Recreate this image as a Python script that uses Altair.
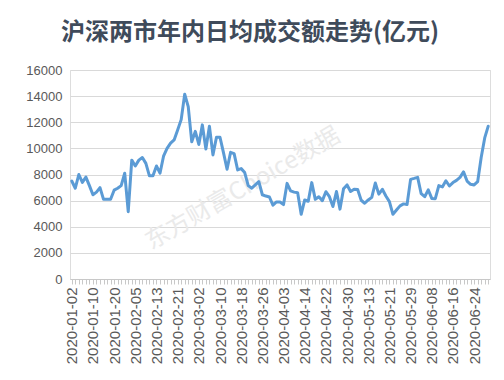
import altair as alt
import pandas as pd

title_text = "沪深两市年内日均成交额走势(亿元)"
watermark_text = "东方财富Choice数据"

# trading days of 2020 (month -> days)
trading_days = {
    "01": [2, 3, 6, 7, 8, 9, 10, 13, 14, 15, 16, 17, 20, 21, 22, 23],
    "02": [3, 4, 5, 6, 7, 10, 11, 12, 13, 14, 17, 18, 19, 20, 21, 24, 25, 26, 27, 28],
    "03": [2, 3, 4, 5, 6, 9, 10, 11, 12, 13, 16, 17, 18, 19, 20, 23, 24, 25, 26, 27, 30, 31],
    "04": [1, 2, 3, 7, 8, 9, 10, 13, 14, 15, 16, 17, 20, 21, 22, 23, 24, 27, 28, 29, 30],
    "05": [6, 7, 8, 11, 12, 13, 14, 15, 18, 19, 20, 21, 22, 25, 26, 27, 28, 29],
    "06": [1, 2, 3, 4, 5, 8, 9, 10, 11, 12, 15, 16, 17, 18, 19, 22, 23, 24, 29, 30],
    "07": [1, 2],
}
dates = [f"2020-{m}-{d:02d}" for m, days in trading_days.items() for d in days]

turnover = [
    7500, 6950, 8000, 7400, 7800, 7150, 6450, 6650, 7000, 6100,
    6100, 6100, 6800, 6950, 7150, 8100, 5150, 9100, 8650, 9100,
    9300, 8850, 7900, 7900, 8650, 8100, 9400, 10000, 10400, 10650,
    11400, 12200, 14150, 13200, 10500, 11300, 10300, 11800, 9950, 11700,
    9500, 10850, 10850, 9650, 8400, 9700, 9600, 8350, 8450, 8150,
    7150, 6950, 7200, 7450, 6450, 6350, 6280, 5650, 5900, 5900,
    5700, 7320, 6750, 6650, 6600, 4950, 6050, 5950, 7380, 6100,
    6300, 6000, 6680, 6300, 5550, 6700, 5350, 6900, 7200, 6700,
    6870, 6850, 6030, 5800, 6050, 6250, 7350, 6500, 6870, 6350,
    5920, 4950, 5280, 5600, 5750, 5700, 7630, 7700, 7780, 6530,
    6300, 6820, 6170, 6150, 7150, 7050, 7520, 7120, 7380, 7550,
    7780, 8200, 7500, 7250, 7200, 7450, 9300, 10800, 11700,
]

y_ticks = [0, 2000, 4000, 6000, 8000, 10000, 12000, 14000, 16000]
shown_dates = dates[::6]

df = pd.DataFrame({"date": dates, "value": turnover})

label_list = "[" + ",".join(f"'{d}'" for d in shown_dates) + "]"

line = alt.Chart(df).mark_line(
    color="#5B9BD5", strokeWidth=3, strokeJoin="round", strokeCap="round"
).encode(
    x=alt.X(
        "date:N",
        sort=None,
        scale=alt.Scale(type="point", padding=0.5),
        axis=alt.Axis(
            title=None,
            labelAngle=270,
            labelExpr=f"indexof({label_list}, datum.value) >= 0 ? datum.value : ''",
            labelOverlap=False,
            labelFont="Liberation Sans",
            labelFontSize=15,
            labelColor="#595959",
            labelPadding=3,
            tickColor="#C8C8C8",
            tickSize=5,
            domainColor="#C8C8C8",
            grid=False,
        ),
    ),
    y=alt.Y(
        "value:Q",
        scale=alt.Scale(domain=[0, 16000], nice=False),
        axis=alt.Axis(
            title=None,
            values=y_ticks,
            format="d",
            labelFont="Liberation Sans",
            labelFontSize=13,
            labelColor="#595959",
            labelPadding=8,
            domain=False,
            ticks=False,
            gridColor="#D9D9D9",
            gridWidth=1,
        ),
    ),
)

wm = alt.Chart(pd.DataFrame({"t": [watermark_text]})).mark_text(
    font="Noto Sans CJK SC", fontSize=24, angle=330, color="#EAEAEA",
    align="center", baseline="middle",
).encode(text="t:N", x=alt.value(173), y=alt.value(119))

ttl = alt.Chart(pd.DataFrame({"t": [title_text]})).mark_text(
    font="Noto Sans CJK SC", fontSize=24, fontWeight="bold", color="#3F4B5B",
    align="center", baseline="middle",
).encode(text="t:N", x=alt.value(180), y=alt.value(-37))

chart = alt.layer(wm, line, ttl).properties(
    width=420,
    height=209,
    autosize=alt.AutoSizeParams(type="none"),
    padding={"left": 62, "top": 62, "right": 6, "bottom": 93},
).configure_view(stroke=None).configure(background="white")

chart.save("out.html", embed_options={"renderer": "svg", "actions": False})
